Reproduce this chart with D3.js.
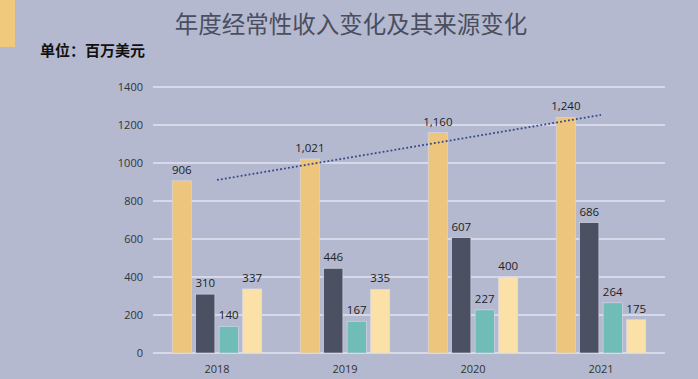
<!DOCTYPE html>
<html>
<head>
<meta charset="utf-8">
<script src="https://d3js.org/d3.v7.min.js"></script>
<style>
    body { margin: 0; background: #b4b9d0; }
    svg { display: block; }
</style>
</head>
<body>
<svg width=698 height=379></svg>
<script>
// data
const years = ["2018", "2019", "2020", "2021"];
const series = ["s1", "s2", "s3", "s4"];
const s1 = [906, 1021, 1160, 1240];
const s2 = [310, 446, 607, 686];
const s3 = [140, 167, 227, 264];
const s4 = [337, 335, 400, 175];
const yTicks = [0, 200, 400, 600, 800, 1000, 1200, 1400];
const colors = ["#edc57c", "#4b5162", "#6fbdb6", "#fbe1a8"];

const w = 698, h = 379;
const marginLeft = 153, marginRight = 33, marginTop = 87, marginBottom = 26;

const svg = d3.select("svg");
const allSeries = [s1, s2, s3, s4];

// little yellow tab top-left
svg.append("rect")
    .attr("x", 0).attr("y", 0)
    .attr("width", 15).attr("height", 47)
    .style("fill", "#f1c97c");

svg.append("text")
    .attr("x", 351).attr("y", 33)
    .attr("text-anchor", "middle")
    .style("font-family", "'Noto Sans CJK SC', sans-serif")
    .style("font-size", "23.5px")
    .style("fill", "#4a4e5e")
    .text("年度经常性收入变化及其来源变化");

svg.append("text")
    .attr("x", 40).attr("y", 56)
    .style("font-family", "'Noto Sans CJK SC', sans-serif")
    .style("font-size", "15px")
    .style("font-weight", "bold")
    .style("fill", "#111")
    .text("单位：百万美元");

const x0 = d3.scaleBand()
    .domain(years)
    .range([marginLeft, w - marginRight])
    .paddingInner(0.3)
    .paddingOuter(0.15);

const x1 = d3.scaleBand()
    .domain(series)
    .range([0, x0.bandwidth()])
    .paddingInner(0.18);

const ys = d3.scaleLinear()
    .domain([0, 1400])
    .range([h - marginBottom, marginTop]);

// gridlines
svg.append("g")
    .selectAll("line")
    .data(yTicks)
    .join("line")
    .attr("x1", marginLeft)
    .attr("x2", w - marginRight)
    .attr("y1", d => ys(d))
    .attr("y2", d => ys(d))
    .style("stroke", "#e2e5ef")
    .style("stroke-width", 1.3);

// y labels
svg.append("g")
    .selectAll("text")
    .data(yTicks)
    .join("text")
    .attr("x", 143)
    .attr("y", d => ys(d) + 4)
    .attr("text-anchor", "end")
    .style("font-family", "'Open Sans', sans-serif")
    .style("font-size", "11px")
    .style("fill", "#333")
    .text(d => d);

// x labels
svg.append("g")
    .selectAll("text")
    .data(years)
    .join("text")
    .attr("x", d => x0(d) + x0.bandwidth() / 2)
    .attr("y", 373)
    .attr("text-anchor", "middle")
    .style("font-family", "'Open Sans', sans-serif")
    .style("font-size", "11px")
    .style("fill", "#333")
    .text(d => d);

const fmt = d3.format(",");

const groups = svg.append("g")
    .selectAll("g")
    .data(years)
    .join("g")
    .attr("transform", d => "translate(" + x0(d) + ",0)");

groups.selectAll("rect")
    .data((d, i) => series.map((s, j) => ({ s: s, j: j, v: allSeries[j][i] })))
    .join("rect")
    .attr("x", d => x1(d.s))
    .attr("y", d => ys(d.v))
    .attr("width", x1.bandwidth())
    .attr("height", d => ys(0) - ys(d.v))
    .style("fill", d => colors[d.j])
    .style("stroke", "#d8dbe8")
    .style("stroke-width", 0.6);

groups.selectAll("text")
    .data((d, i) => series.map((s, j) => ({ s: s, j: j, v: allSeries[j][i] })))
    .join("text")
    .attr("x", d => x1(d.s) + x1.bandwidth() / 2)
    .attr("y", d => ys(d.v) - 7)
    .attr("text-anchor", "middle")
    .style("font-family", "'Open Sans', sans-serif")
    .style("font-size", "11.5px")
    .style("fill", "#222")
    .text(d => fmt(d.v));

// linear trendline of the first series
const n = s1.length;
const xm = d3.mean(d3.range(n));
const ym = d3.mean(s1);
const slope = d3.sum(s1, (v, i) => (i - xm) * (v - ym)) / d3.sum(d3.range(n), i => (i - xm) * (i - xm));
const icpt = ym - slope * xm;

svg.append("line")
    .attr("x1", x0(years[0]) + x0.bandwidth() / 2)
    .attr("y1", ys(icpt))
    .attr("x2", x0(years[n - 1]) + x0.bandwidth() / 2)
    .attr("y2", ys(icpt + slope * (n - 1)))
    .style("stroke", "#33478a")
    .style("stroke-width", 1.8)
    .style("stroke-dasharray", "1.8,2.2");
</script>
</body>
</html>
